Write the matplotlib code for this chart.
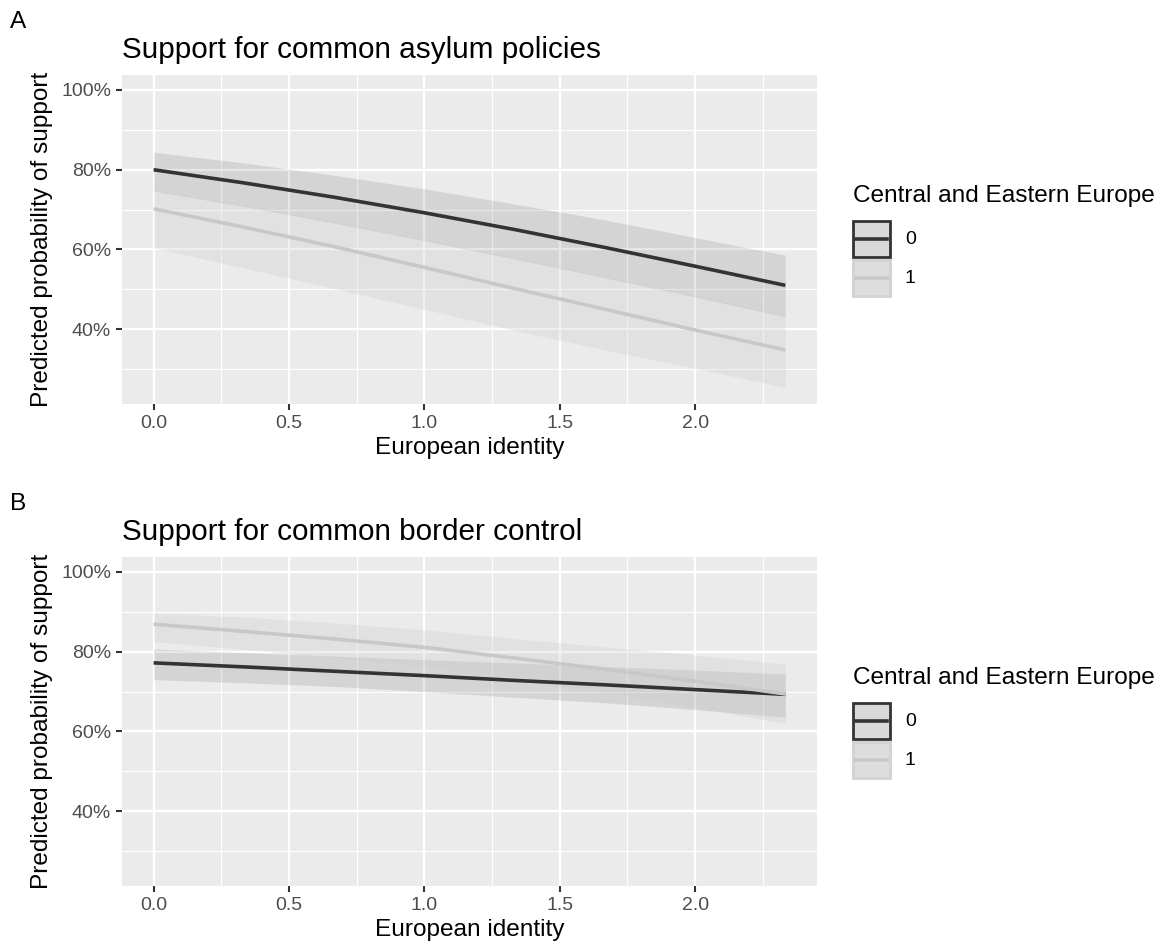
import matplotlib.pyplot as plt
from matplotlib.patches import Rectangle
from matplotlib.lines import Line2D
from matplotlib.ticker import FixedLocator, FuncFormatter

plt.rcParams['font.family'] = ['Liberation Sans', 'DejaVu Sans']

W, H = 1168, 947

# European identity (x) and predicted probabilities (%)
identity = [0.0, 0.333, 0.667, 1.0, 1.333, 1.667, 2.0, 2.333]

asylum_cee0 = [80.0, 76.7, 73.1, 69.2, 65.0, 60.5, 55.8, 51.0]
asylum_cee0_hi = [84.4, 81.7, 78.6, 75.2, 71.4, 67.4, 63.0, 58.6]
asylum_cee0_lo = [74.6, 70.8, 66.6, 62.2, 57.6, 52.9, 48.1, 43.1]
asylum_cee1 = [70.2, 65.6, 60.7, 55.5, 50.2, 45.0, 39.8, 34.8]
asylum_cee1_hi = [74.9, 71.1, 66.9, 62.5, 57.9, 53.2, 48.4, 43.4]
asylum_cee1_lo = [60.4, 55.4, 50.2, 45.0, 39.7, 34.8, 30.2, 25.4]

border_cee0 = [77.2, 76.2, 75.1, 74.0, 72.8, 71.7, 70.5, 69.3]
border_cee0_hi = [80.7, 79.8, 78.9, 78.0, 77.2, 76.3, 75.4, 74.4]
border_cee0_lo = [73.0, 72.2, 71.3, 70.0, 68.6, 67.2, 65.5, 63.6]
border_cee1 = [86.9, 85.1, 83.2, 81.1, 78.4, 75.6, 72.6, 69.4]
border_cee1_hi = [89.6, 88.7, 87.2, 85.5, 83.3, 81.2, 79.2, 76.9]
border_cee1_lo = [82.5, 80.6, 78.5, 76.2, 73.0, 69.8, 66.0, 62.0]

panel_letters = ["A", "B"]
panel_titles = ["Support for common asylum policies", "Support for common border control"]
legend_title = "Central and Eastern Europe"
legend_labels = ["0", "1"]

x_ticks = [0.0, 0.5, 1.0, 1.5, 2.0]
y_ticks = [40, 60, 80, 100]

DARK = "#333333"
LIGHT = "#C8C8C8"


def px(x, y):
    return x / W, 1 - y / H


def style_axis(ax):
    ax.set_facecolor("#EBEBEB")
    for s in ax.spines.values():
        s.set_visible(False)
    ax.set_xlim(-0.1167, 2.45)
    ax.set_ylim(21.25, 103.75)
    ax.xaxis.set_major_locator(FixedLocator(x_ticks))
    ax.xaxis.set_minor_locator(FixedLocator([0.25, 0.75, 1.25, 1.75, 2.25]))
    ax.yaxis.set_major_locator(FixedLocator(y_ticks))
    ax.yaxis.set_minor_locator(FixedLocator([30, 50, 70, 90]))
    ax.xaxis.set_major_formatter(FuncFormatter(lambda v, p: f"{v:.1f}"))
    ax.yaxis.set_major_formatter(FuncFormatter(lambda v, p: f"{v:.0f}%"))
    ax.grid(which="major", color="white", linewidth=1.7)
    ax.grid(which="minor", color="white", linewidth=0.85)
    ax.set_axisbelow(True)
    ax.tick_params(which="major", length=4.3, width=1.5, color="#333333",
                   labelcolor="#4D4D4D", labelsize=14, pad=3.5)
    ax.tick_params(which="minor", length=0)
    ax.set_xlabel("European identity", fontsize=17.6, labelpad=4)
    ax.set_ylabel("Predicted probability of support", fontsize=17.6, labelpad=6)


def draw_legend(fig, title_y):
    fig.text(*px(853, title_y), legend_title, fontsize=17.6, va="center", ha="left")
    specs = [("#D9D9D9", DARK, DARK), ("#DDDDDD", "#D2D2D2", LIGHT)]
    for i, (face, edge, line_c) in enumerate(specs):
        top = title_y + 25 + i * 39
        x0, y0 = px(853, top + 36)
        rect = Rectangle((x0, y0), 37 / W, 36 / H, transform=fig.transFigure,
                         facecolor=face, edgecolor=edge, linewidth=2.0)
        fig.add_artist(rect)
        lx0, ly = px(856, top + 18)
        lx1, _ = px(887, top + 18)
        fig.add_artist(Line2D([lx0, lx1], [ly, ly], transform=fig.transFigure,
                              color=line_c, linewidth=2.6))
        fig.text(*px(905, top + 18), legend_labels[i], fontsize=14, va="center", ha="left")


fig = plt.figure(figsize=(W / 100, H / 100), dpi=100)

panels = [
    (75, asylum_cee0, asylum_cee0_lo, asylum_cee0_hi, asylum_cee1, asylum_cee1_lo, asylum_cee1_hi),
    (557, border_cee0, border_cee0_lo, border_cee0_hi, border_cee1, border_cee1_lo, border_cee1_hi),
]

for i, (top, l0, lo0, hi0, l1, lo1, hi1) in enumerate(panels):
    left, bottom = px(122, top + 329)
    ax = fig.add_axes([left, bottom, 695 / W, 329 / H])
    style_axis(ax)
    ax.fill_between(identity, lo0, hi0, color=DARK, alpha=0.12, linewidth=0)
    ax.fill_between(identity, lo1, hi1, color="#CCCCCC", alpha=0.3, linewidth=0)
    ax.plot(identity, l0, color=DARK, linewidth=2.6, solid_capstyle="butt")
    ax.plot(identity, l1, color=LIGHT, linewidth=2.6, solid_capstyle="butt")
    ax.set_title(panel_titles[i], loc="left", fontsize=21.4, pad=12)
    fig.text(*px(10, top - 53), panel_letters[i], fontsize=17.6, va="center", ha="left")
    draw_legend(fig, top + 121)

fig.savefig("out.png", dpi=100)
